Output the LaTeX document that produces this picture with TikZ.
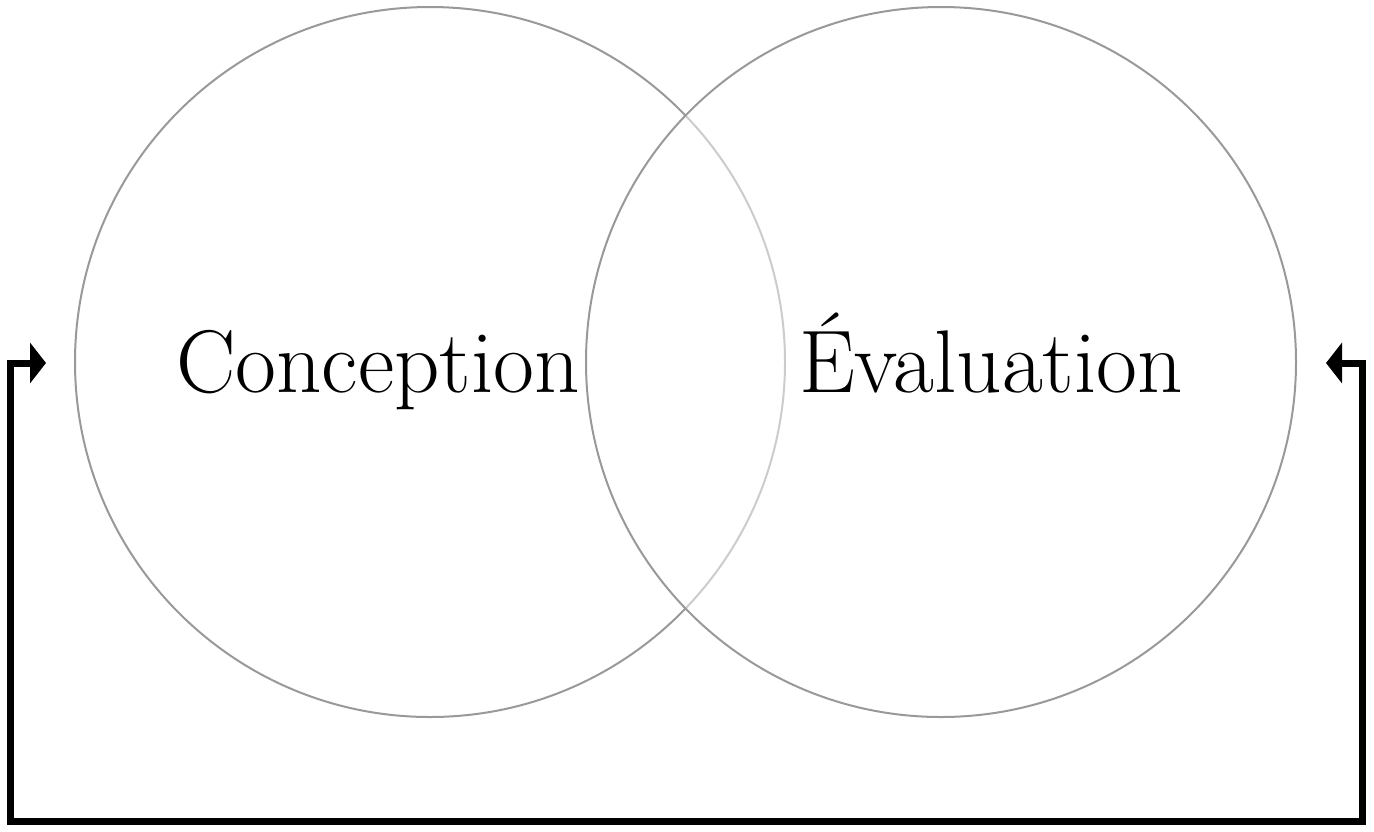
\documentclass[tikz,border=0pt]{standalone}
\usetikzlibrary{arrows.meta}
\begin{document}
\begin{tikzpicture}[x=1pt,y=-1pt,
  ring/.style={circle,draw=black!40,line width=2pt,fill=white,fill opacity=0.5,draw opacity=1,minimum size=710pt,inner sep=0pt},
  label/.style={font=\fontsize{89}{90}\selectfont,inner sep=0pt,anchor=base},
  loop/.style={line width=7pt,{Triangle[length=16pt,width=40pt]}-{Triangle[length=16pt,width=40pt]}}]
\useasboundingbox (0,0) rectangle (1374,831);
\node[ring] (c1) at (430,362) {};
\node[ring] (c2) at (941,362) {};
\node[label] (t1) at (378,392) {Conception};
\node[label] (t2) at (991,392) {Évaluation};
\coordinate (a1) at (46,363);
\coordinate (a2) at (1326,363);
\coordinate (k1) at (10,821);
\coordinate (k2) at (1362,821);
\draw[loop] (a1) -| (k1) -| (k2) |- (a2);
\end{tikzpicture}
\end{document}
